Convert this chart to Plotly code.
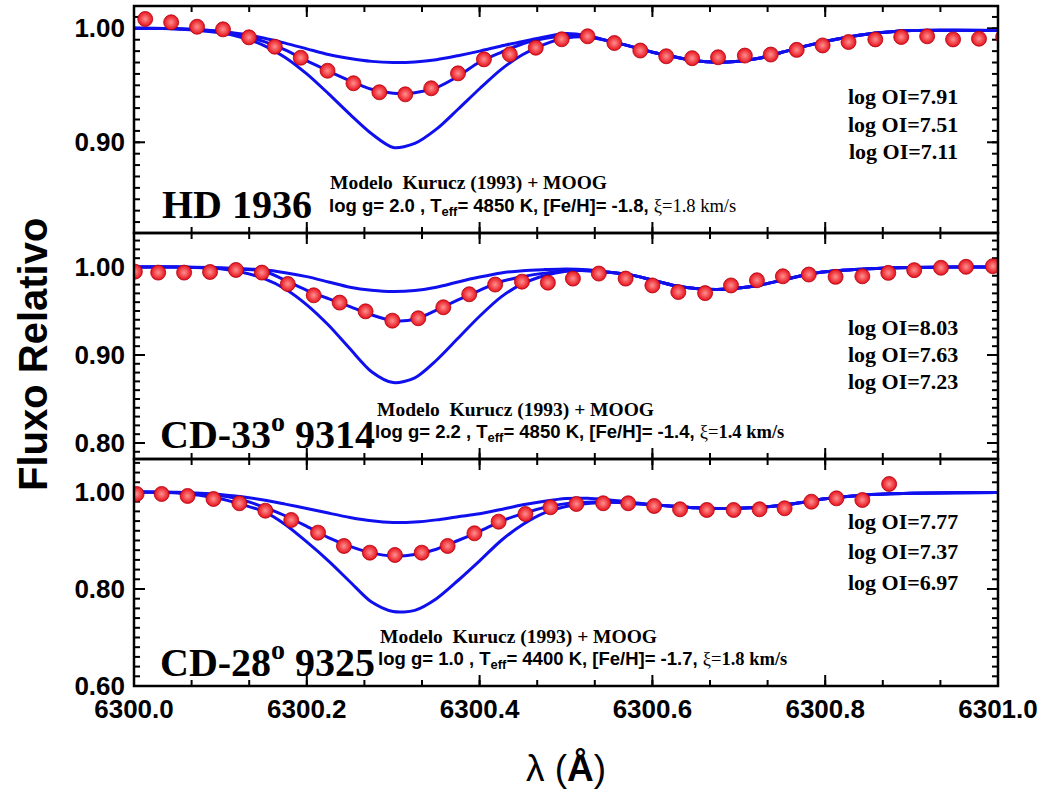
import math
import plotly.graph_objects as go

# ---------------- data ----------------
obs1_x = [6300.013, 6300.043, 6300.073, 6300.103, 6300.133, 6300.163, 6300.193, 6300.224, 6300.254,
          6300.284, 6300.314, 6300.344, 6300.375, 6300.405, 6300.435, 6300.465, 6300.495, 6300.525,
          6300.556, 6300.586, 6300.616, 6300.646, 6300.676, 6300.707, 6300.737, 6300.767, 6300.797,
          6300.827, 6300.858, 6300.888, 6300.918, 6300.948, 6300.978, 6301.006]
obs1_y = [1.0082, 1.0053, 1.0014, 0.9991, 0.9921, 0.9839, 0.9742, 0.9628, 0.9518, 0.9439, 0.9421,
          0.9474, 0.9605, 0.9728, 0.9772, 0.9830, 0.9904, 0.9930, 0.9871, 0.9805, 0.9755, 0.9738,
          0.9746, 0.9761, 0.9770, 0.9811, 0.9850, 0.9880, 0.9903, 0.9924, 0.9930, 0.9903, 0.9909, 0.9925]

obs2_x = [6300.001, 6300.028, 6300.058, 6300.088, 6300.118, 6300.148, 6300.178, 6300.208, 6300.238,
          6300.268, 6300.299, 6300.329, 6300.358, 6300.388, 6300.418, 6300.449, 6300.479, 6300.508,
          6300.538, 6300.569, 6300.600, 6300.630, 6300.661, 6300.691, 6300.721, 6300.751, 6300.781,
          6300.812, 6300.843, 6300.873, 6300.903, 6300.934, 6300.963, 6300.994]
obs2_y = [0.9947, 0.9936, 0.9936, 0.9943, 0.9966, 0.9936, 0.9807, 0.9678, 0.9595, 0.9496, 0.9390,
          0.9417, 0.9542, 0.9690, 0.9800, 0.9833, 0.9822, 0.9868, 0.9925, 0.9868, 0.9790, 0.9715,
          0.9703, 0.9790, 0.9849, 0.9894, 0.9914, 0.9888, 0.9894, 0.9933, 0.9964, 0.9991, 1.0002, 1.0009]

obs3_x = [6300.003, 6300.032, 6300.062, 6300.092, 6300.122, 6300.152, 6300.182, 6300.213, 6300.243,
          6300.273, 6300.302, 6300.333, 6300.363, 6300.394, 6300.422, 6300.453, 6300.482, 6300.512,
          6300.543, 6300.572, 6300.602, 6300.632, 6300.663, 6300.694, 6300.724, 6300.753, 6300.784,
          6300.813, 6300.843, 6300.874]
obs3_y = [0.9959, 0.9959, 0.9918, 0.9856, 0.9767, 0.9615, 0.9423, 0.9162, 0.8887, 0.8749, 0.8701,
          0.8749, 0.8887, 0.9148, 0.9388, 0.9546, 0.9684, 0.9753, 0.9767, 0.9767, 0.9711, 0.9643,
          0.9629, 0.9629, 0.9643, 0.9664, 0.9800, 0.9869, 0.9835, 1.0165]

model_x = [6300.000, 6300.050, 6300.100, 6300.125, 6300.150, 6300.175, 6300.200, 6300.225, 6300.250,
           6300.275, 6300.300, 6300.325, 6300.350, 6300.375, 6300.400, 6300.425, 6300.450, 6300.475,
           6300.500, 6300.525, 6300.550, 6300.575, 6300.600, 6300.625, 6300.650, 6300.675, 6300.700,
           6300.725, 6300.750, 6300.775, 6300.800, 6300.850, 6300.900, 6300.950, 6301.000]

hd1936_weak = [1.000, 0.9997, 0.9975, 0.995, 0.9915, 0.987, 0.982, 0.977, 0.9735, 0.971, 0.970, 0.9705,
               0.9725, 0.976, 0.980, 0.9845, 0.9885, 0.9925, 0.9955, 0.9935,
               0.9888, 0.9842, 0.979, 0.975, 0.9715, 0.9703, 0.9712, 0.974, 0.979, 0.984, 0.9885,
               0.995, 0.998, 0.9983, 0.998]
hd1936_mid = [1.000, 0.9996, 0.997, 0.994, 0.9885, 0.981, 0.9715, 0.9625, 0.954, 0.9465, 0.943, 0.9435,
              0.948, 0.958, 0.9705, 0.979, 0.9865, 0.991, 0.9935, 0.993,
              0.9888, 0.9842, 0.979, 0.975, 0.9715, 0.9703, 0.9712, 0.974, 0.979, 0.984, 0.9885,
              0.995, 0.998, 0.9983, 0.998]
hd1936_deep = [1.000, 0.9995, 0.996, 0.992, 0.985, 0.9745, 0.960, 0.9427, 0.9245, 0.9075, 0.8955, 0.899,
               0.9115, 0.929, 0.947, 0.964, 0.977, 0.986, 0.9915, 0.9925,
               0.9888, 0.9842, 0.979, 0.975, 0.9715, 0.9703, 0.9712, 0.974, 0.979, 0.984, 0.9885,
               0.995, 0.998, 0.9983, 0.998]

cd33_weak = [1.000, 1.000, 0.9992, 0.998, 0.9968, 0.9935, 0.989, 0.983, 0.977, 0.9735, 0.972, 0.9732,
             0.977, 0.983, 0.9885, 0.9932, 0.9958, 0.997, 0.9978, 0.9968,
             0.994, 0.991, 0.985, 0.979, 0.9755, 0.9743, 0.976, 0.9795, 0.985, 0.9905, 0.9945,
             0.998, 0.9995, 1.000, 1.000]
cd33_mid = [1.000, 1.000, 0.9985, 0.9975, 0.9955, 0.985, 0.9735, 0.964, 0.955, 0.9455, 0.939, 0.9405,
            0.951, 0.9625, 0.9735, 0.9835, 0.989, 0.993, 0.9955, 0.9958,
            0.994, 0.991, 0.985, 0.979, 0.9755, 0.9743, 0.976, 0.9795, 0.985, 0.9905, 0.9945,
            0.998, 0.9995, 1.000, 1.000]
cd33_deep = [1.000, 1.000, 0.998, 0.994, 0.987, 0.975, 0.957, 0.934, 0.907, 0.881, 0.8686, 0.874,
             0.894, 0.919, 0.944, 0.966, 0.981, 0.990, 0.995, 0.9958,
             0.994, 0.991, 0.985, 0.979, 0.9755, 0.9743, 0.976, 0.9795, 0.985, 0.9905, 0.9945,
             0.998, 0.9995, 1.000, 1.000]

cd28_weak = [1.000, 0.9995, 0.995, 0.990, 0.9835, 0.975, 0.966, 0.9565, 0.9475, 0.9405, 0.937, 0.938,
             0.9425, 0.949, 0.955, 0.964, 0.9735, 0.981, 0.9865, 0.987,
             0.9835, 0.979, 0.9735, 0.9705, 0.9675, 0.966, 0.9665, 0.9685, 0.9725, 0.979, 0.986,
             0.9945, 0.9975, 0.9985, 0.9988]
cd28_mid = [1.000, 0.999, 0.992, 0.984, 0.969, 0.951, 0.929, 0.906, 0.888, 0.8745, 0.868, 0.871,
            0.882, 0.900, 0.919, 0.940, 0.9555, 0.968, 0.976, 0.979,
            0.9795, 0.977, 0.9735, 0.9705, 0.9675, 0.966, 0.9665, 0.9685, 0.9725, 0.979, 0.986,
            0.9945, 0.9975, 0.9985, 0.9988]
cd28_deep = [1.000, 0.998, 0.986, 0.974, 0.960, 0.933, 0.897, 0.858, 0.815, 0.773, 0.7535, 0.756,
             0.780, 0.8175, 0.858, 0.900, 0.933, 0.957, 0.970, 0.976,
             0.979, 0.977, 0.9735, 0.9705, 0.9675, 0.966, 0.9665, 0.9685, 0.9725, 0.979, 0.986,
             0.9945, 0.9975, 0.9985, 0.9988]

star_names = ["HD 1936", "CD-33<sup>o</sup> 9314", "CD-28<sup>o</sup> 9325"]
model_line = ["Modelo  Kurucz (1993) + MOOG"] * 3
param_logg = ["2.0", "2.2", "1.0"]
param_teff = ["4850", "4850", "4400"]
param_feh = ["-1.8", "-1.4", "-1.7"]
param_xi = ["1.8", "1.4", "1.8"]
log_oi = [["7.91", "7.51", "7.11"], ["8.03", "7.63", "7.23"], ["7.77", "7.37", "6.97"]]

x_range = [6300.0, 6301.0]
x_dtick, x_minor = 0.2, 0.2 / 3
y_ranges = [[0.8204, 1.0196], [0.7818, 1.0386], [0.60, 1.068]]
y_dticks = [0.1, 0.1, 0.2]
y_minor = [0.01, 0.01, 0.02]

# ---------------- layout geometry ----------------
W, H = 1048, 789
L, R, T, B = 134, 998, 6, 686
LW = 2.5
MAJ_LEN, MIN_LEN, TICK_W = 11, 6, 2
panel_edges = [(6, 233), (233, 459), (459, 686)]

def px2paper(px, py):
    return (px - L) / (R - L), (B - py) / (B - T)

def tick_values(lo, hi, step, base=0.0):
    n0 = math.ceil((lo - base) / step - 1e-6)
    n1 = math.floor((hi - base) / step + 1e-6)
    return [base + n * step for n in range(n0, n1 + 1)]

SANS = "Liberation Sans, Arial, sans-serif"
SERIF = "Liberation Serif, Times New Roman, serif"
NARROW = "Liberation Sans Narrow, Arial Narrow, Liberation Sans, sans-serif"
BLUE = "#1010ee"
RED = "#e6101a"

fig = go.Figure()

obs = [(obs1_x, obs1_y), (obs2_x, obs2_y), (obs3_x, obs3_y)]
models = [(hd1936_weak, hd1936_mid, hd1936_deep),
          (cd33_weak, cd33_mid, cd33_deep),
          (cd28_weak, cd28_mid, cd28_deep)]

def aid(n):
    return "" if n == 1 else str(n)

tickfont = dict(family=SANS, size=26, color="black", weight="bold")
shapes = []
for i in range(3):
    top, bot = panel_edges[i]
    ph, pw = bot - top, R - L
    dom = [(B - bot) / (B - T), (B - top) / (B - T)]
    xa, ya = "x" + aid(i + 1), "y" + aid(i + 1)
    x0, x1 = x_range
    y0, y1 = y_ranges[i]
    ux = (x1 - x0) / pw      # axis units per pixel
    uy = (y1 - y0) / ph

    # inward tick marks on all four sides, built from the axis tick spacing
    tx, ty = [], []
    for step, ln in ((x_dtick, MAJ_LEN), (x_minor, MIN_LEN)):
        for v in tick_values(x0, x1, step, base=x0):
            tx += [v, v, None, v, v, None]
            ty += [y0, y0 + ln * uy, None, y1 - ln * uy, y1, None]
    for step, ln in ((y_dticks[i], MAJ_LEN), (y_minor[i], MIN_LEN)):
        for v in tick_values(y0, y1, step):
            tx += [x0, x0 + ln * ux, None, x1 - ln * ux, x1, None]
            ty += [v, v, None, v, v, None]
    fig.add_trace(go.Scatter(x=tx, y=ty, mode="lines", xaxis=xa, yaxis=ya,
                             line=dict(color="black", width=TICK_W), connectgaps=False,
                             showlegend=False, hoverinfo="skip"))

    for curve in models[i]:
        fig.add_trace(go.Scatter(x=model_x, y=curve, mode="lines", xaxis=xa, yaxis=ya,
                                 line=dict(color=BLUE, width=3, shape="spline", smoothing=0.8),
                                 showlegend=False, hoverinfo="skip"))
    fig.add_trace(go.Scatter(x=obs[i][0], y=obs[i][1], mode="markers", xaxis=xa, yaxis=ya,
                             marker=dict(size=15, color=RED,
                                         gradient=dict(type="radial", color="#ff9090"),
                                         line=dict(color="#b00010", width=0.8)),
                             showlegend=False, hoverinfo="skip"))

    fig.layout["xaxis" + aid(i + 1)] = dict(
        domain=[0, 1], anchor=ya, range=x_range, autorange=False,
        showgrid=False, zeroline=False, showline=False, ticks="",
        tickmode="linear", tick0=6300.0, dtick=x_dtick, tickformat=".1f",
        showticklabels=(i == 2), ticklabelstandoff=5, tickfont=tickfont)
    fig.layout["yaxis" + aid(i + 1)] = dict(
        domain=dom, anchor=xa, range=y_ranges[i], autorange=False,
        showgrid=False, zeroline=False, showline=False, ticks="",
        tickmode="linear", tick0=0.0, dtick=y_dticks[i], tickformat=".2f",
        ticklabelstandoff=8, tickfont=tickfont)
    shapes.append(dict(type="rect", xref=xa + " domain", yref=ya + " domain",
                       x0=0, x1=1, y0=0, y1=1, layer="above",
                       line=dict(color="black", width=LW), fillcolor="rgba(0,0,0,0)"))

ann = []
name_pos = [(160, 205), (158, 431), (158, 659)]
model_pos = [(328, 183), (375, 410), (378, 637)]
param_pos = [(327, 207), (373, 433), (376, 660)]
oi_pos = [[(903, 97), (903, 124), (903, 151)],
          [(903, 327), (903, 354), (903, 381)],
          [(903, 521), (903, 551), (903, 582)]]

for i in range(3):
    x, y = px2paper(*name_pos[i])
    ann.append(dict(x=x, y=y, xref="paper", yref="paper", xanchor="left", yanchor="middle",
                    text=f"<b>{star_names[i]}</b>", showarrow=False,
                    font=dict(family=SERIF, size=40, color="black")))
    x, y = px2paper(*model_pos[i])
    ann.append(dict(x=x, y=y, xref="paper", yref="paper", xanchor="left", yanchor="middle",
                    text=f"<b>{model_line[i]}</b>", showarrow=False,
                    font=dict(family=SERIF, size=19.5, color="black")))
    x, y = px2paper(*param_pos[i])
    xi_txt = (f"<span style='font-family:Liberation Serif'>ξ={param_xi[i]} km/s</span>" if i == 0 else
              f"<span style='font-family:Liberation Serif'>ξ=<b>{param_xi[i]} km/s</b></span>")
    ann.append(dict(x=x, y=y, xref="paper", yref="paper", xanchor="left", yanchor="middle",
                    text=(f"<b>log g= {param_logg[i]} , T<sub>eff</sub>= {param_teff[i]} K, "
                          f"[Fe/H]= {param_feh[i]}, </b>") + xi_txt,
                    showarrow=False, font=dict(family=NARROW, size=18.5, color="black")))
    for j in range(3):
        x, y = px2paper(*oi_pos[i][j])
        ann.append(dict(x=x, y=y, xref="paper", yref="paper", xanchor="center", yanchor="middle",
                        text=f"<b>log OI={log_oi[i][j]}</b>", showarrow=False,
                        font=dict(family=SERIF, size=22, color="black")))

x, y = px2paper(33, 355)
ann.append(dict(x=x, y=y, xref="paper", yref="paper", xanchor="center", yanchor="middle",
                text="<b>Fluxo Relativo</b>", textangle=-90, showarrow=False,
                font=dict(family=SANS, size=40, color="black")))
x, y = px2paper(566, 768)
ann.append(dict(x=x, y=y, xref="paper", yref="paper", xanchor="center", yanchor="middle",
                text="λ (<b>Å</b>)", showarrow=False,
                font=dict(family=SANS, size=37, color="black")))

fig.update_layout(width=W, height=H, margin=dict(l=L, r=W - R, t=T, b=H - B),
                  paper_bgcolor="white", plot_bgcolor="white", annotations=ann, shapes=shapes,
                  showlegend=False, template="none")

fig.write_html("out.html")
